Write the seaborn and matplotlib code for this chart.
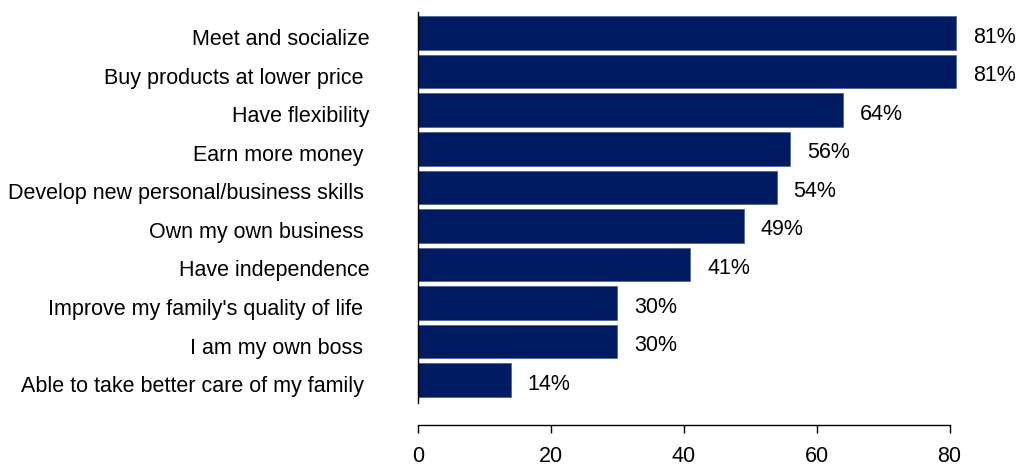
import matplotlib
matplotlib.use("Agg")
import matplotlib.pyplot as plt
import matplotlib.transforms as mtransforms
import seaborn as sns
import pandas as pd

reasons = [
    "Meet and socialize",
    "Buy products at lower price ",
    "Have flexibility",
    "Earn more money ",
    "Develop new personal/business skills ",
    "Own my own business ",
    "Have independence",
    "Improve my family's quality of life ",
    "I am my own boss ",
    "Able to take better care of my family ",
]
shares = [81, 81, 64, 56, 54, 49, 41, 30, 30, 14]
x_ticks = [0, 20, 40, 60, 80]

sns.set_theme(style="white")
plt.rcParams["font.family"] = ["Liberation Sans", "DejaVu Sans"]

df = pd.DataFrame({"reason": reasons, "share": shares})

fig = plt.figure(figsize=(10.16, 4.67), dpi=100)
ax = fig.add_axes([418 / 1016, 1 - 403 / 467, 1 - 418 / 1016, (403 - 12) / 467])

sns.barplot(data=df, y="reason", x="share", orient="h", color="#001b62",
            saturation=1, width=0.87, edgecolor="#3a4f8a", linewidth=0.4, ax=ax)

# value labels sit a little below the bar centre
for container in ax.containers:
    anns = ax.bar_label(container, labels=[f"{v}%" for v in shares], padding=12,
                        fontsize=15.5, color="black")
    for a in anns:
        a.xyann = (12, -3)

ax.set_xlim(0, 90)
ax.set_ylim(9.6, -0.55)
ax.set_xticks(x_ticks)
ax.set_xticklabels([str(t) for t in x_ticks])
ax.set_xlabel("")
ax.set_ylabel("")

for side in ["top", "right"]:
    ax.spines[side].set_visible(False)
ax.spines["left"].set_color("black")
ax.spines["left"].set_linewidth(1.0)
ax.spines["bottom"].set_color("black")
ax.spines["bottom"].set_linewidth(1.0)
ax.spines["bottom"].set_position(("outward", 16))
ax.spines["bottom"].set_bounds(0, 80)

ax.tick_params(axis="x", bottom=True, direction="out", length=6, width=1,
               color="black", pad=9, labelsize=15.5, labelcolor="black")
ax.tick_params(axis="y", left=False, length=0, pad=35, labelsize=15.5,
               labelcolor="black")

shift = mtransforms.ScaledTranslation(0, -3 / 72, fig.dpi_scale_trans)
for lbl in ax.get_yticklabels():
    lbl.set_transform(lbl.get_transform() + shift)

fig.savefig("out.png", dpi=100)
